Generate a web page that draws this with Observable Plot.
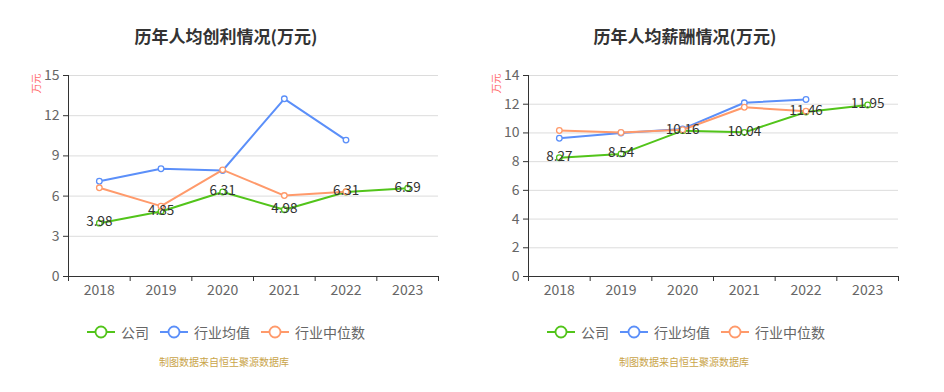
<!DOCTYPE html>
<html>
<head>
<meta charset="utf-8">
<script src="https://cdn.jsdelivr.net/npm/d3@7"></script>
<script src="https://cdn.jsdelivr.net/npm/@observablehq/plot@0.6"></script>
<style>
  html, body { margin: 0; padding: 0; background: #fff; }
  body { width: 944px; height: 392px; position: relative; overflow: hidden; font-family: "Noto Sans CJK SC", "Noto Sans", sans-serif; }
  .panel { position: absolute; top: 0; width: 472px; height: 392px; }
  .title { position: absolute; top: 24px; width: 300px; text-align: center; font-size: 17px; font-weight: bold; color: #333; line-height: 24px; white-space: nowrap; }
  .plot { position: absolute; top: 60px; left: 0; }
  .legend { position: absolute; top: 322px; height: 20px; display: flex; align-items: center; font-size: 14px; color: #666; white-space: nowrap; }
  .legend .item { display: flex; align-items: center; margin-right: 11px; }
  .legend svg { margin-right: 6px; }
  .source { position: absolute; top: 355px; font-size: 10px; color: #c9a449; white-space: nowrap; line-height: 14px; }
</style>
</head>
<body>
<script>
const years = [2018, 2019, 2020, 2021, 2022, 2023];
const seriesNames = ["公司", "行业均值", "行业中位数"];
const seriesColors = ["#52c41a", "#5b8ff9", "#ff9a6b"];

const profitCompany = [3.98, 4.85, 6.31, 4.98, 6.31, 6.59];
const profitIndustryAvg = [7.11, 8.04, 7.91, 13.26, 10.18, null];
const profitIndustryMedian = [6.62, 5.25, 7.96, 6.04, 6.32, null];
const profitTicks = [0, 3, 6, 9, 12, 15];

const salaryCompany = [8.27, 8.54, 10.16, 10.04, 11.46, 11.95];
const salaryIndustryAvg = [9.63, 10.0, 10.28, 12.1, 12.33, null];
const salaryIndustryMedian = [10.17, 10.03, 10.22, 11.79, 11.51, null];
const salaryTicks = [0, 2, 4, 6, 8, 10, 12, 14];

const titles = ["历年人均创利情况(万元)", "历年人均薪酬情况(万元)"];
const unitLabel = "万元";
const sourceText = "制图数据来自恒生聚源数据库";

function toRows(values) {
  return years.map((y, i) => ({year: y, value: values[i]})).filter(d => d.value != null);
}

function makeChart(cfg) {
  const panel = document.createElement("div");
  panel.className = "panel";
  panel.style.left = cfg.left + "px";
  document.body.appendChild(panel);

  const title = document.createElement("div");
  title.className = "title";
  title.textContent = cfg.title;
  title.style.left = (cfg.titleCenter - 150) + "px";
  panel.appendChild(title);

  const series = cfg.series.map(toRows);
  const yMax = cfg.ticks[cfg.ticks.length - 1];
  const xDomain = [years[0] - 0.5, years[years.length - 1] + 0.5];
  const boundaries = d3.range(years.length + 1).map(i => xDomain[0] + i);

  const marks = [
    Plot.ruleY(cfg.ticks.filter(t => t > 0), {stroke: "#dcdcdc", strokeWidth: 1}),
    Plot.axisY(cfg.ticks, {tickSize: 5, tickPadding: 4, stroke: "#333", fill: "#666", fontSize: 14, label: null}),
    Plot.axisX(boundaries, {tickSize: 5, tickFormat: () => "", stroke: "#333", label: null}),
    Plot.axisX(years, {tickSize: 0, tickPadding: 9, tickFormat: d => String(d), fill: "#666", fontSize: 14, label: null}),
    Plot.ruleX([xDomain[0]], {y1: 0, y2: yMax, stroke: "#333", strokeWidth: 1}),
    Plot.ruleY([0], {stroke: "#333", strokeWidth: 1}),
    Plot.text([unitLabel], {frameAnchor: "top-left", dx: cfg.unitDx, dy: 18, rotate: -90, fill: "#ff6b6b", fontSize: 10})
  ];
  series.forEach((rows, i) => {
    marks.push(Plot.line(rows, {x: "year", y: "value", stroke: seriesColors[i], strokeWidth: 2}));
  });
  series.forEach((rows, i) => {
    marks.push(Plot.dot(rows, {x: "year", y: "value", r: 2.8, fill: "#fff", stroke: seriesColors[i], strokeWidth: 1.3}));
  });
  marks.push(Plot.text(series[0], {x: "year", y: "value", text: d => d.value.toFixed(2), fill: "#333", fontSize: 13.5, dy: -1}));

  const chart = Plot.plot({
    width: 472,
    height: 240,
    marginTop: 15,
    marginBottom: 24,
    marginLeft: cfg.marginLeft,
    marginRight: cfg.marginRight,
    style: {fontFamily: '"Noto Sans CJK SC", "Noto Sans", sans-serif', fontSize: "13px", background: "transparent", overflow: "visible"},
    x: {type: "linear", domain: xDomain, axis: null},
    y: {type: "linear", domain: [0, yMax], axis: null},
    marks
  });
  const wrap = document.createElement("div");
  wrap.className = "plot";
  wrap.appendChild(chart);
  panel.appendChild(wrap);

  const legend = document.createElement("div");
  legend.className = "legend";
  legend.style.left = cfg.legendLeft + "px";
  seriesNames.forEach((name, i) => {
    const item = document.createElement("div");
    item.className = "item";
    const c = seriesColors[i];
    item.innerHTML = `<svg width="28" height="14" viewBox="0 0 28 14"><line x1="0" y1="7" x2="28" y2="7" stroke="${c}" stroke-width="2"/><circle cx="14" cy="7" r="5.5" fill="#fff" stroke="${c}" stroke-width="1.8"/></svg><span>${name}</span>`;
    legend.appendChild(item);
  });
  panel.appendChild(legend);

  const src = document.createElement("div");
  src.className = "source";
  src.style.left = (cfg.legendLeft + 72) + "px";
  src.textContent = sourceText;
  panel.appendChild(src);
}

makeChart({
  left: 0, title: titles[0], titleCenter: 226,
  series: [profitCompany, profitIndustryAvg, profitIndustryMedian],
  ticks: profitTicks, marginLeft: 68, marginRight: 34, unitDx: -36, legendLeft: 87
});
makeChart({
  left: 472, title: titles[1], titleCenter: 213,
  series: [salaryCompany, salaryIndustryAvg, salaryIndustryMedian],
  ticks: salaryTicks, marginLeft: 56, marginRight: 46, unitDx: -36, legendLeft: 75
});
</script>
</body>
</html>
